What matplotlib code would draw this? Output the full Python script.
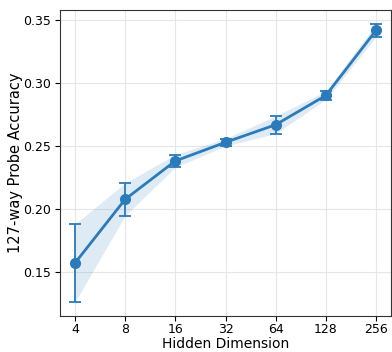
import matplotlib
matplotlib.use("Agg")
import matplotlib.pyplot as plt
import numpy as np

hidden_dims = [4, 8, 16, 32, 64, 128, 256]
accuracy = [0.157, 0.2077, 0.2382, 0.2530, 0.2670, 0.2903, 0.3420]
acc_std = [0.031, 0.013, 0.005, 0.003, 0.007, 0.0033, 0.005]

color = "#2b7bba"
x = np.arange(len(hidden_dims))
acc = np.array(accuracy)
err = np.array(acc_std)

fig = plt.figure(figsize=(3.92, 3.52), dpi=100)
ax = fig.add_axes([60 / 392, 36 / 352, 331 / 392, 306 / 352])

ax.fill_between(x, acc - err, acc + err, color=color, alpha=0.15, linewidth=0)
ax.errorbar(x, acc, yerr=err, color=color, marker="o", markersize=7,
            linewidth=2, capsize=4, elinewidth=1.3, capthick=1.3)

ax.set_xticks(x)
ax.set_xticklabels([str(d) for d in hidden_dims])
ax.set_xlim(-0.3, 6.3)
ax.set_ylim(0.1148, 0.3583)
ax.set_yticks([0.15, 0.20, 0.25, 0.30, 0.35])
ax.grid(True, color="#e6e6e6", linewidth=0.8)
ax.set_axisbelow(True)
ax.tick_params(axis="y", labelsize=9, length=3.5, pad=3)
ax.tick_params(axis="x", labelsize=9, length=3.5, pad=1.5)
ax.set_xlabel("Hidden Dimension", fontsize=10)
ax.set_ylabel("127-way Probe Accuracy", fontsize=10.5)
ax.xaxis.set_label_coords(0.5, -0.07)
ax.yaxis.set_label_coords(-0.113, 0.5)
for s in ax.spines.values():
    s.set_color("#333333")

fig.savefig("out.png", dpi=100)
